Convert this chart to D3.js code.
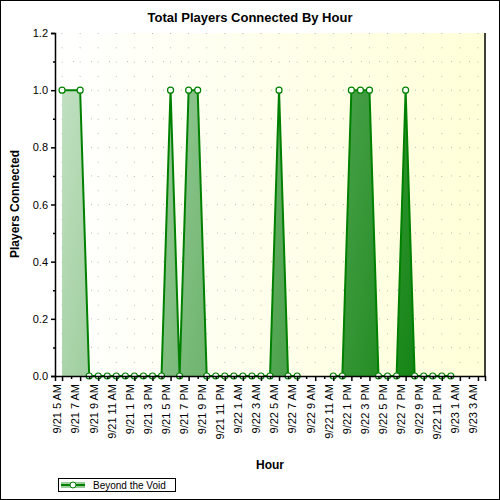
<!DOCTYPE html>
<html><head><meta charset="utf-8">
<script src="https://d3js.org/d3.v7.min.js"></script>
<style>body{margin:0;background:#fff}text{font-family:"Liberation Sans",Arial,sans-serif}</style>
</head><body><svg width="500" height="500"></svg>
<script>
// hours since 9/21 5 AM, and players connected in that hour
const hours = [0,2,3,4,5,6,7,8,9,10,11,12,13,14,15,16,17,18,19,20,21,22,23,24,25,26,30,31,32,33,34,35,36,37,38,39,40,41,42,43];
const players = [1,1,0,0,0,0,0,0,0,0,0,1,0,1,1,0,0,0,0,0,0,0,0,1,0,0,0,0,1,1,1,0,0,0,1,0,0,0,0,0];
const tickLabels = ["9/21 5 AM","9/21 7 AM","9/21 9 AM","9/21 11 AM","9/21 1 PM","9/21 3 PM","9/21 5 PM","9/21 7 PM","9/21 9 PM","9/21 11 PM","9/22 1 AM","9/22 3 AM","9/22 5 AM","9/22 7 AM","9/22 9 AM","9/22 11 AM","9/22 1 PM","9/22 3 PM","9/22 5 PM","9/22 7 PM","9/22 9 PM","9/22 11 PM","9/23 1 AM","9/23 3 AM"];
const yTicks = [0,0.2,0.4,0.6,0.8,1.0,1.2];

const svg = d3.select("svg");
const L=55,R=485,T=33,B=376;
const x = d3.scaleLinear().domain([-0.78,46.78]).range([L,R]);
const y = d3.scaleLinear().domain([0,1.2]).range([B,T]);
const data = hours.map((h,i)=>({h,v:players[i]}));

svg.append("rect").attr("x",0.5).attr("y",0.5).attr("width",499).attr("height",499).attr("fill","#fff").attr("stroke","#000");
const defs = svg.append("defs");
const bg = defs.append("linearGradient").attr("id","bg").attr("gradientUnits","userSpaceOnUse").attr("x1",L).attr("x2",R).attr("y1",0).attr("y2",0);
bg.append("stop").attr("offset",0).attr("stop-color","#ffffff");
bg.append("stop").attr("offset",1).attr("stop-color","#ffffd8");
const ag = defs.append("linearGradient").attr("id","ag").attr("gradientUnits","userSpaceOnUse").attr("x1",L).attr("x2",R).attr("y1",T).attr("y2",T+80);
ag.append("stop").attr("offset",0).attr("stop-color","#c8e4c8");
ag.append("stop").attr("offset",1).attr("stop-color","#0c800c");

svg.append("rect").attr("x",L).attr("y",T).attr("width",R-L).attr("height",B-T).attr("fill","url(#bg)");

// grid
const g = svg.append("g");
g.selectAll(".gy").data([0.1,0.2,0.3,0.4,0.5,0.6,0.7,0.8,0.9,1.0,1.1]).enter().append("line")
 .attr("x1",L).attr("x2",R).attr("y1",d=>y(d)).attr("y2",d=>y(d)).attr("stroke","#bbb").attr("stroke-dasharray","1,17");
g.selectAll(".gx").data(d3.range(0,47,2)).enter().append("line")
 .attr("y1",T).attr("y2",B).attr("x1",d=>x(d)).attr("x2",d=>x(d)).attr("stroke","#bbb").attr("stroke-dasharray","1,13.3");

// segments split at gaps
const segs=[];let cur=[];
data.forEach((d,i)=>{ if(i>0 && d.h-data[i-1].h>2){segs.push(cur);cur=[];} cur.push(d); });
segs.push(cur);
const area = d3.area().x(d=>x(d.h)).y0(B).y1(d=>y(d.v));
const line = d3.line().x(d=>x(d.h)).y(d=>y(d.v));
segs.forEach(s=>{
  svg.append("path").attr("d",area(s)).attr("fill","url(#ag)");
  svg.append("path").attr("d",line(s)).attr("fill","none").attr("stroke","#008000").attr("stroke-width",2);
});
svg.selectAll(".m").data(data).enter().append("circle").attr("cx",d=>x(d.h)).attr("cy",d=>y(d.v)).attr("r",3)
 .attr("fill","#fff").attr("stroke","#008000").attr("stroke-width",1.2);

// axes
const yAx = svg.append("g").attr("transform",`translate(${L},0)`)
 .call(d3.axisLeft(y).tickValues(yTicks).tickFormat(d3.format(".1f")).tickSizeOuter(0).tickSize(4));
yAx.call(a=>a.append("g").call(d3.axisLeft(y).tickValues([0.1,0.3,0.5,0.7,0.9,1.1]).tickFormat("").tickSize(2)).select(".domain").remove());
const xAx = svg.append("g").attr("transform",`translate(0,${B})`)
 .call(d3.axisBottom(x).tickValues(d3.range(0,47,2)).tickFormat((d,i)=>tickLabels[i]).tickSizeOuter(0).tickSize(5));
xAx.append("g").call(d3.axisBottom(x).tickValues(d3.range(1,47,2)).tickFormat("").tickSize(3)).select(".domain").remove();
xAx.selectAll("text").attr("transform","rotate(-90)").attr("text-anchor","end").attr("x",-8).attr("y",-5).attr("dy","0.35em");
[yAx,xAx].forEach(a=>{a.selectAll("text").attr("font-size",11).attr("fill","#000");a.selectAll("line,path").attr("stroke","#000").attr("stroke-width",1.5);});
yAx.selectAll("text").attr("x",-7);
svg.append("line").attr("x1",R).attr("x2",R).attr("y1",T).attr("y2",B).attr("stroke","#000").attr("stroke-width",1.5);

svg.append("text").attr("x",250).attr("y",22).attr("text-anchor","middle").attr("font-size",13).attr("font-weight","bold").text("Total Players Connected By Hour");
svg.append("text").attr("transform","translate(19,204) rotate(-90)").attr("text-anchor","middle").attr("font-size",12).attr("font-weight","bold").text("Players Connected");
svg.append("text").attr("x",270).attr("y",469).attr("text-anchor","middle").attr("font-size",12).attr("font-weight","bold").text("Hour");

// legend
const lg = svg.append("g");
lg.append("rect").attr("x",58.5).attr("y",478.5).attr("width",117).attr("height",13).attr("fill","#fff").attr("stroke","#000");
lg.append("rect").attr("x",61).attr("y",482).attr("width",24).attr("height",6).attr("fill","url(#ag)");
lg.append("line").attr("x1",61).attr("x2",85).attr("y1",485).attr("y2",485).attr("stroke","#008000").attr("stroke-width",2);
lg.append("circle").attr("cx",73).attr("cy",485).attr("r",3).attr("fill","#fff").attr("stroke","#008000");
lg.append("text").attr("x",93).attr("y",489).attr("font-size",10).text("Beyond the Void");
</script></body></html>
